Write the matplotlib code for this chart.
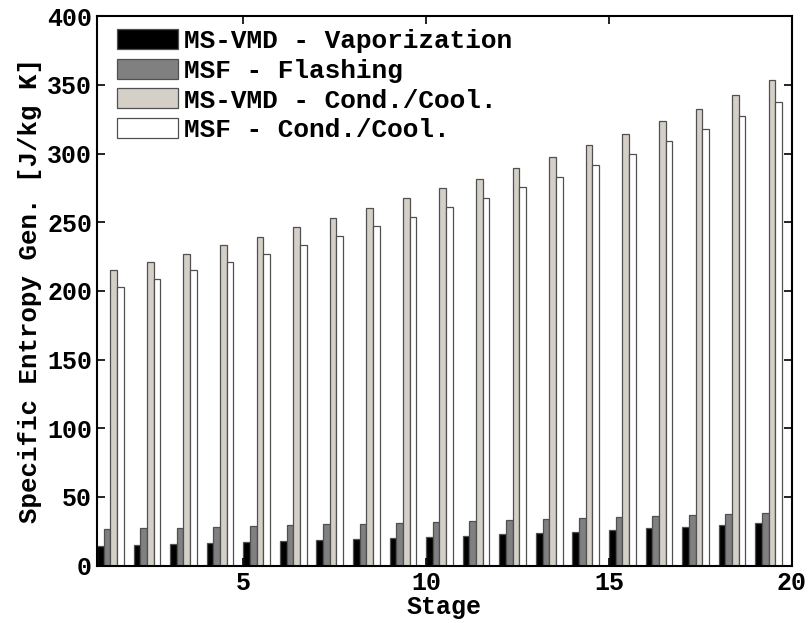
import numpy as np
import matplotlib.pyplot as plt

plt.rcParams['font.family'] = ['Liberation Mono', 'DejaVu Sans Mono']
plt.rcParams['font.weight'] = 'bold'

stages = np.arange(1, 20)

vmd_vap = [14.4, 15.1, 15.9, 16.4, 17.1, 17.8, 18.5, 19.5, 20.2, 21.0,
           21.9, 22.9, 23.9, 24.8, 26.0, 27.3, 28.2, 29.5, 30.9]
msf_flash = [26.8, 27.3, 27.7, 28.5, 29.0, 29.5, 30.2, 30.7, 31.4, 31.9,
             32.6, 33.3, 34.0, 34.8, 35.3, 36.0, 36.7, 37.7, 38.4]
vmd_cond = [215.3, 221.3, 227.2, 233.2, 239.5, 246.4, 253.1, 260.2, 267.5, 274.7,
            281.7, 289.2, 297.5, 306.0, 314.6, 323.6, 332.8, 342.5, 353.3]
msf_cond = [203.1, 209.0, 215.0, 220.9, 227.2, 233.5, 240.3, 247.1, 253.9, 261.1,
            267.9, 275.4, 283.0, 291.6, 299.9, 308.8, 317.8, 327.0, 337.4]

labels = ['MS-VMD - Vaporization', 'MSF - Flashing',
          'MS-VMD - Cond./Cool.', 'MSF - Cond./Cool.']
colors = ['#000000', '#808080', '#d4d0c8', '#ffffff']

fig = plt.figure(figsize=(8.08, 6.23), dpi=100)
ax = fig.add_axes([0.120, 0.092, 0.860, 0.882])

w = 0.183
series = [vmd_vap, msf_flash, vmd_cond, msf_cond]
for j in range(4):
    ax.bar(stages + j * w, series[j], width=w, align='edge', color=colors[j],
           edgecolor='#505050', linewidth=0.9, label=labels[j])

ax.set_xlim(1, 20)
ax.set_ylim(0, 400)
ax.set_xticks([5, 10, 15, 20])
ax.set_yticks(np.arange(0, 401, 50))
ax.tick_params(direction='in', length=6, width=1.2, top=True, right=True,
               labelsize=18)
for s in ax.spines.values():
    s.set_linewidth(1.5)

ax.set_xlabel('Stage', fontsize=18, fontweight='bold', labelpad=0)
ax.set_ylabel('Specific Entropy Gen. [J/kg K]', fontsize=18.5, fontweight='bold', labelpad=4)

ax.legend(loc='upper left', frameon=False, fontsize=18.8, handlelength=2.35,
          handleheight=0.8, handletextpad=0.2, labelspacing=0.22,
          borderaxespad=0, borderpad=0, bbox_to_anchor=(0.029, 0.977))

plt.savefig('out.png', dpi=100)
